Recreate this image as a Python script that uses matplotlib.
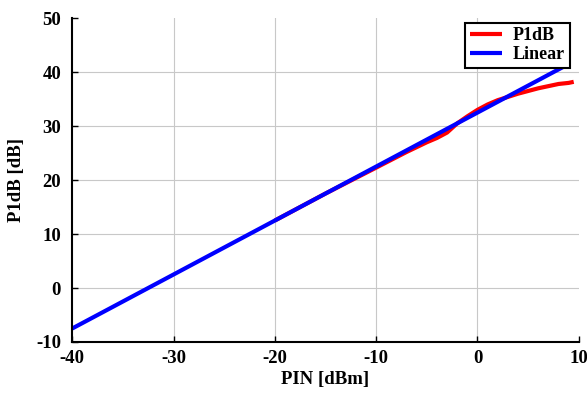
import matplotlib.pyplot as plt

# input power sweep [dBm]
pin_linear = [-40, 8.5]
gain_offset = 32.5

pin_p1db = [-20, -15, -10, -7, -5, -4, -3, -2, -1, 0, 1, 2, 3, 4, 5, 6, 7, 8, 9, 9.5]
p1db = [12.5, 17.5, 22.3, 25.2, 27.0, 27.8, 28.8, 30.5, 31.8, 33.0, 34.0, 34.8,
        35.4, 36.0, 36.5, 37.0, 37.4, 37.8, 38.0, 38.2]

x_ticks = [-40, -30, -20, -10, 0, 10]
y_ticks = [-10, 0, 10, 20, 30, 40, 50]

plt.rcParams['font.family'] = 'Liberation Serif'
plt.rcParams['font.weight'] = 'bold'
plt.rcParams['axes.unicode_minus'] = False

fig = plt.figure(figsize=(5.87, 3.94), dpi=100)
ax = fig.add_axes([0.123, 0.132, 0.863, 0.822])

linear = [x + gain_offset for x in pin_linear]
ax.plot(pin_p1db, p1db, color='red', lw=3, label='P1dB', solid_capstyle='butt')
ax.plot(pin_linear, linear, color='blue', lw=3, label='Linear', solid_capstyle='butt')

ax.set_xlim(-40, 10)
ax.set_ylim(-10, 50)
ax.set_xticks(x_ticks)
ax.set_yticks(y_ticks)
ax.tick_params(direction='in', length=4, width=1, labelsize=13.5)
ax.tick_params(axis='y', pad=8)
ax.tick_params(axis='x', pad=6)
for lbl in ax.get_xticklabels() + ax.get_yticklabels():
    lbl.set_fontweight('bold')

ax.grid(True, color='#c8c8c8', lw=0.8)
ax.set_axisbelow(True)
ygl = ax.get_ygridlines()
ygl[-1].set_visible(False)
ygl[0].set_visible(False)
xgl = ax.get_xgridlines()
xgl[0].set_visible(False)
xgl[-1].set_visible(False)

ax.spines['top'].set_visible(False)
ax.spines['right'].set_visible(False)
ax.spines['left'].set_linewidth(1.5)
ax.spines['bottom'].set_linewidth(1.5)

ax.set_xlabel('PIN [dBm]', fontsize=13.5, fontweight='bold', labelpad=3)
ax.set_ylabel('P1dB [dB]', fontsize=13.5, fontweight='bold', labelpad=8)

leg = ax.legend(loc='upper right', bbox_to_anchor=(0.982, 0.985), fancybox=False,
                edgecolor='black', framealpha=1, prop={'weight': 'bold', 'size': 13},
                handlelength=1.8, borderpad=0.25, labelspacing=0.1, handletextpad=0.6,
                borderaxespad=0)
leg.get_frame().set_linewidth(1.5)

fig.savefig('out.png', dpi=100)
